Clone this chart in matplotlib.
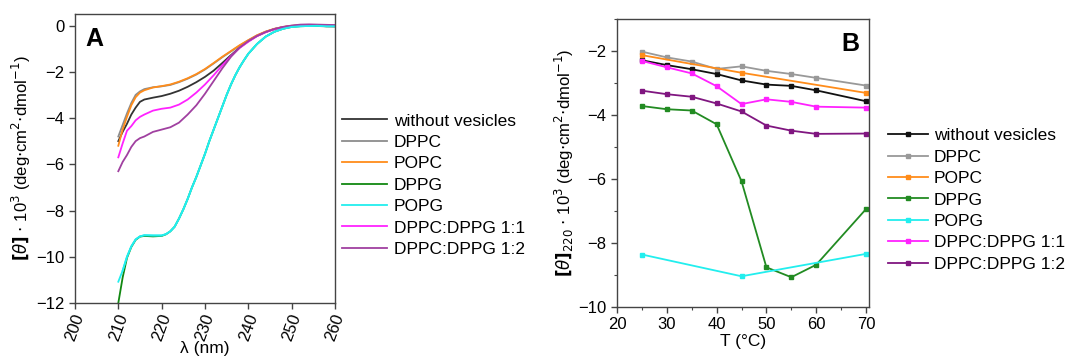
"""
CD spectra (A) and thermal dependence of [theta]220 (B)
"""

import matplotlib
matplotlib.use('Agg')
import matplotlib.pyplot as plt
from matplotlib.ticker import MultipleLocator

plt.rcParams['font.family'] = ['Liberation Sans', 'DejaVu Sans']
plt.rcParams['mathtext.fontset'] = 'dejavusans'

# ---------------- data: panel A (CD spectra) ----------------
lam = [210, 211, 212, 213, 214, 215, 216, 218, 220, 222, 224, 226, 228, 230,
       232, 234, 236, 238, 240, 242, 244, 246, 248, 250, 252, 254, 256, 258, 260]

spec_free = [-5.0, -4.6, -4.25, -3.85, -3.55, -3.3, -3.2, -3.12, -3.05, -2.95, -2.82, -2.65, -2.45, -2.22,
             -1.95, -1.62, -1.28, -0.95, -0.68, -0.45, -0.28, -0.15, -0.07, -0.02, 0.0, 0.01, 0.01, 0.0, -0.01]
spec_dppc = [-4.8, -4.3, -3.8, -3.35, -3.0, -2.85, -2.75, -2.67, -2.63, -2.57, -2.45, -2.3, -2.12, -1.9,
             -1.64, -1.37, -1.12, -0.87, -0.64, -0.43, -0.27, -0.15, -0.07, -0.02, 0.0, -0.01, -0.02, -0.04, -0.05]
spec_popc = [-5.2, -4.5, -3.95, -3.45, -3.1, -2.9, -2.8, -2.68, -2.62, -2.55, -2.43, -2.28, -2.1, -1.88,
             -1.62, -1.35, -1.1, -0.85, -0.63, -0.42, -0.26, -0.14, -0.06, -0.01, 0.02, 0.02, 0.02, 0.01, 0.0]
spec_mix11 = [-5.7, -5.1, -4.55, -4.35, -4.1, -3.95, -3.85, -3.68, -3.6, -3.55, -3.42, -3.2, -2.9, -2.55,
              -2.15, -1.72, -1.32, -0.97, -0.7, -0.46, -0.29, -0.16, -0.07, -0.02, 0.01, 0.02, 0.02, 0.01, 0.0]
spec_mix12 = [-6.3, -5.9, -5.6, -5.25, -5.0, -4.87, -4.8, -4.6, -4.5, -4.4, -4.2, -3.85, -3.45, -2.95,
              -2.4, -1.85, -1.35, -0.95, -0.67, -0.45, -0.28, -0.15, -0.06, 0.0, 0.04, 0.05, 0.04, 0.03, 0.02]

lam_pg = [210, 211, 212, 213, 214, 215, 216, 218, 220, 221, 222, 223, 224, 225, 226, 227, 228, 229, 230,
          231, 232, 233, 234, 235, 236, 237, 238, 239, 240, 242, 244, 246, 248, 250, 252, 254, 256, 258, 260]
spec_popg = [-11.08, -10.6, -10.0, -9.55, -9.25, -9.12, -9.07, -9.08, -9.08, -9.02, -8.9, -8.7, -8.35, -7.95,
             -7.5, -7.0, -6.55, -6.05, -5.55, -5.0, -4.5, -4.0, -3.5, -3.0, -2.55, -2.15, -1.8, -1.5, -1.22,
             -0.8, -0.48, -0.27, -0.14, -0.06, -0.03, -0.02, -0.01, -0.03, -0.03]
spec_dppg = [-12.0, -10.9, -10.05, -9.58, -9.27, -9.13, -9.1, -9.12, -9.1, -9.03, -8.9, -8.7, -8.35, -7.95,
             -7.5, -7.0, -6.55, -6.05, -5.55, -5.0, -4.5, -4.0, -3.5, -3.0, -2.55, -2.15, -1.8, -1.5, -1.22,
             -0.8, -0.48, -0.27, -0.14, -0.06, -0.03, -0.02, -0.01, -0.03, -0.03]

# ---------------- data: panel B ([theta]220 vs T) ----------------
T_full = [25, 30, 35, 40, 45, 50, 55, 60, 70]
T_short = [25, 45, 70]

th_free = [-2.29, -2.44, -2.57, -2.72, -2.92, -3.05, -3.09, -3.23, -3.57]
th_dppc = [-2.02, -2.20, -2.33, -2.56, -2.48, -2.62, -2.72, -2.84, -3.08]
th_popc = [-2.13, -2.68, -3.31]
th_dppg = [-3.72, -3.82, -3.86, -4.29, -6.07, -8.76, -9.07, -8.68, -6.94]
th_popg = [-8.36, -9.04, -8.34]
th_mix11 = [-2.31, -2.51, -2.70, -3.10, -3.66, -3.51, -3.59, -3.74, -3.77]
th_mix12 = [-3.24, -3.35, -3.43, -3.64, -3.89, -4.33, -4.49, -4.59, -4.58]

labels = ['without vesicles', 'DPPC', 'POPC', 'DPPG', 'POPG', 'DPPC:DPPG 1:1', 'DPPC:DPPG 1:2']
cols_a = ['#333333', '#8c8c8c', '#ff8c1a', '#118811', '#22eeee', '#ff22ff', '#a040a0']
cols_b = ['#111111', '#999999', '#ff8c1a', '#228b22', '#22eeee', '#ff22ff', '#801680']

fig = plt.figure(figsize=(10.71, 3.61), dpi=100)
axA = fig.add_axes([0.070, 0.1607, 0.2428, 0.8006])
axB = fig.add_axes([0.5761, 0.1496, 0.2353, 0.7978])

# --- panel A ---
series_a = [(lam, spec_free), (lam, spec_dppc), (lam, spec_popc), (lam_pg, spec_dppg),
            (lam_pg, spec_popg), (lam, spec_mix11), (lam, spec_mix12)]
for (x, y), c, lab in zip(series_a, cols_a, labels):
    axA.plot(x, y, color=c, lw=1.3, label=lab)
# POPG drawn over DPPG as in the figure
axA.plot(lam_pg[1:], spec_popg[1:], color=cols_a[4], lw=1.3)

axA.set_xlim(200, 260)
axA.set_ylim(-12, 0.5)
axA.xaxis.set_major_locator(MultipleLocator(10))
axA.yaxis.set_major_locator(MultipleLocator(2))
axA.set_xlabel('\u03bb (nm)', fontsize=12.5, labelpad=-1)
axA.set_ylabel(r'$\mathbf{[}\mathit{\theta}\mathbf{]}$ $\cdot$ 10$^3$ (deg$\cdot$cm$^2$$\cdot$dmol$^{-1}$)',
               fontsize=12, labelpad=2)
axA.tick_params(axis='x', labelrotation=70, pad=2)
axA.text(0.04, 0.955, 'A', transform=axA.transAxes, fontsize=18, fontweight='bold', va='top', ha='left')
axA.legend(loc='upper left', bbox_to_anchor=(1.0, 0.68), frameon=False, fontsize=12.5,
           handlelength=2.6, handletextpad=0.4, labelspacing=0.36, borderaxespad=0)

# --- panel B ---
series_b = [(T_full, th_free), (T_full, th_dppc), (T_short, th_popc), (T_full, th_dppg),
            (T_short, th_popg), (T_full, th_mix11), (T_full, th_mix12)]
for (x, y), c, lab in zip(series_b, cols_b, labels):
    axB.plot(x, y, color=c, lw=1.3, marker='s', ms=3.5, label=lab)

axB.set_xlim(20, 70.6)
axB.set_ylim(-10, -1)
axB.xaxis.set_major_locator(MultipleLocator(10))
axB.xaxis.set_minor_locator(MultipleLocator(5))
axB.yaxis.set_major_locator(MultipleLocator(2))
axB.yaxis.set_minor_locator(MultipleLocator(1))
axB.set_xlabel('T (°C)', fontsize=12.5, labelpad=1)
axB.set_ylabel(r'$\mathbf{[}\mathit{\theta}\mathbf{]}_{220}$ $\cdot$ 10$^3$ (deg$\cdot$cm$^2$$\cdot$dmol$^{-1}$)',
               fontsize=12, labelpad=2)
axB.text(0.96, 0.955, 'B', transform=axB.transAxes, fontsize=18, fontweight='bold', va='top', ha='right')
axB.legend(loc='upper left', bbox_to_anchor=(1.047, 0.645), frameon=False, fontsize=12.5,
           handlelength=2.3, handletextpad=0.35, labelspacing=0.36, borderaxespad=0)

for ax in (axA, axB):
    for s in ax.spines.values():
        s.set_color('#444444')
        s.set_linewidth(1.0)
    ax.tick_params(which='major', direction='out', length=4, width=1, labelsize=12, color='#444444')
    ax.tick_params(which='minor', direction='out', length=2.5, width=0.8, color='#444444')

plt.savefig('out.png', dpi=100)
